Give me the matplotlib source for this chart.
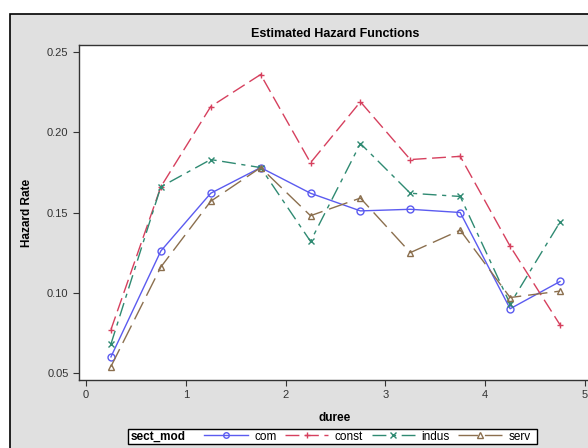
import matplotlib
matplotlib.use("Agg")
import matplotlib.pyplot as plt
import matplotlib.patches as mpatches
from matplotlib.lines import Line2D

plt.rcParams["font.family"] = ["Liberation Sans", "DejaVu Sans"]

# data
duree = [0.25, 0.75, 1.25, 1.75, 2.25, 2.75, 3.25, 3.75, 4.25, 4.75]
com = [0.060, 0.126, 0.162, 0.178, 0.162, 0.151, 0.152, 0.150, 0.090, 0.107]
const = [0.077, 0.166, 0.216, 0.236, 0.181, 0.219, 0.183, 0.185, 0.129, 0.080]
indus = [0.068, 0.166, 0.183, 0.178, 0.132, 0.193, 0.162, 0.160, 0.093, 0.144]
serv = [0.054, 0.116, 0.157, 0.178, 0.148, 0.159, 0.125, 0.139, 0.097, 0.101]
groups = ["com", "const", "indus", "serv"]
xticks = [0, 1, 2, 3, 4, 5]
yticks = [0.05, 0.10, 0.15, 0.20, 0.25]

STYLES = {
    "com":   dict(color="#5b5bf0", ls="-", marker="o"),
    "const": dict(color="#d6405e", ls=(0, (10, 4)), marker="+"),
    "indus": dict(color="#2f8a72", ls=(0, (10, 4, 3, 4)), marker="x"),
    "serv":  dict(color="#8b6f4e", ls=(0, (14, 5)), marker="^"),
}
series = {"com": com, "const": const, "indus": indus, "serv": serv}

fig = plt.figure(figsize=(5.88, 4.48), dpi=100)
fig.patch.set_facecolor("white")
# gray outer panel with black border
fig.add_artist(mpatches.Rectangle((10 / 588, -0.1), 1.2, 1.1 - 14 / 448,
                                  transform=fig.transFigure, facecolor="#e0e0e0",
                                  edgecolor="black", lw=1.2, zorder=-10))

ax = fig.add_axes([79 / 588, 1 - 380 / 448, 1 - 79 / 588 + 0.005, (380 - 45) / 448])
ax.set_facecolor("white")
for g in groups:
    st = STYLES[g]
    ax.plot(duree, series[g], color=st["color"], ls=st["ls"], lw=1.0,
            marker=st["marker"], mfc="none", mec=st["color"], ms=5, mew=1.0,
            label=g)

ax.set_xlim(-0.07, 5.06)
ax.set_ylim(0.0456, 0.2544)
ax.set_xticks(xticks)
ax.set_xticklabels([str(t) for t in xticks])
ax.set_yticks(yticks)
ax.set_yticklabels([f"{t:.2f}" for t in yticks])
ax.tick_params(labelsize=8, length=4, width=0.8, color="#333333", labelcolor="#333333")
for s in ax.spines.values():
    s.set_color("#333333")
    s.set_linewidth(1.0)

ax.set_title("Estimated Hazard Functions", fontsize=9, fontweight="bold", pad=6)
ax.set_xlabel("duree", fontsize=8.5, fontweight="bold", labelpad=8)
ax.set_ylabel("Hazard Rate", fontsize=8.5, fontweight="bold", labelpad=10)

# legend box like SAS: title on the left, entries in one row
fig.add_artist(mpatches.Rectangle((128 / 588, 1 - 444 / 448), (537 - 128) / 588, 15 / 448,
                                  transform=fig.transFigure, facecolor="white",
                                  edgecolor="black", lw=1.0, zorder=5))
fig.text(131 / 588, 1 - 436.5 / 448, "sect_mod", fontsize=8.5, fontweight="bold",
         va="center", ha="left", zorder=6)
handles = [Line2D([], [], color=STYLES[g]["color"], ls=STYLES[g]["ls"], lw=1.0,
                  marker=STYLES[g]["marker"], mfc="none", mec=STYLES[g]["color"],
                  ms=4, mew=1.0) for g in groups]
leg = fig.legend(handles, groups, loc="center left", ncol=4, frameon=False,
                 bbox_to_anchor=(204 / 588, 1 - 436.5 / 448), borderaxespad=0,
                 borderpad=0, fontsize=8.5, handlelength=3.7, handletextpad=0.55,
                 columnspacing=0.7)
leg.set_zorder(7)

fig.savefig("out.png", dpi=100)
